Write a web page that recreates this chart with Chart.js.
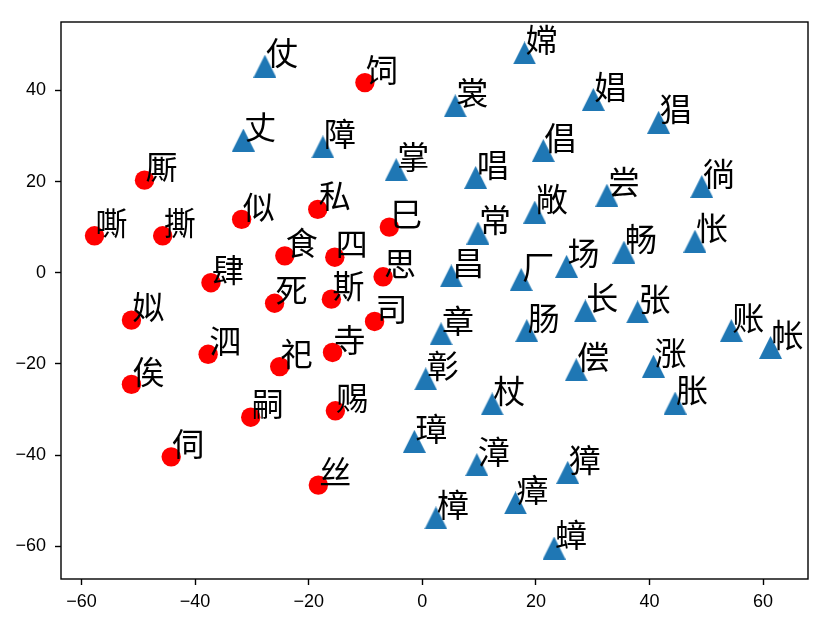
<!DOCTYPE html>
<html>
<head>
<meta charset="utf-8">
<script src="https://cdn.jsdelivr.net/npm/chart.js@4.4.1/dist/chart.umd.min.js"></script>
<style>
  html, body { margin: 0; padding: 0; background: #fff; }
  #wrap { width: 831px; height: 626px; }
</style>
</head>
<body>
<div id="wrap"><canvas id="myChart" width="831" height="626"></canvas></div>
<script>
// red group (circles)
const redLabels = ['饲', '厮', '嘶', '撕', '似', '私', '食', '四', '巳', '肆', '死', '斯',
    '思', '司', '姒', '泗', '祀', '寺', '俟', '嗣', '赐', '伺', '丝'];
const redX = [-10.1, -48.9, -57.7, -45.7, -31.8, -18.4, -24.2, -15.4, -5.8, -37.2, -26.0, -16.0,
    -6.9, -8.4, -51.2, -37.7, -25.1, -15.8, -51.2, -30.2, -15.3, -44.2, -18.3];
const redY = [41.7, 20.3, 8.1, 8.1, 11.7, 13.9, 3.7, 3.4, 10.0, -2.2, -6.7, -5.8,
    -0.9, -10.7, -10.4, -17.9, -20.6, -17.5, -24.5, -31.7, -30.3, -40.4, -46.6];

// blue group (triangles)
const blueLabels = ['仗', '丈', '障', '嫦', '裳', '掌', '唱', '倡', '娼', '猖', '尝', '徜',
    '常', '敞', '昌', '厂', '场', '畅', '怅', '长', '张', '账', '帐', '章',
    '肠', '偿', '涨', '胀', '彰', '杖', '璋', '漳', '獐', '瘴', '樟', '蟑'];
const blueX = [-27.7, -31.5, -17.5, 18.0, 5.8, -4.6, 9.4, 21.3, 30.1, 41.6, 32.5, 49.2,
    9.8, 19.8, 5.1, 17.4, 25.4, 35.5, 48.0, 28.7, 37.9, 54.4, 61.3, 3.3,
    18.4, 27.1, 40.7, 44.5, 0.6, 12.3, -1.4, 9.6, 25.6, 16.4, 2.4, 23.2];
const blueY = [45.3, 29.1, 27.6, 48.2, 36.6, 22.6, 20.9, 26.8, 38.0, 33.0, 17.0, 18.9,
    8.7, 13.3, -0.7, -1.5, 1.4, 4.5, 6.9, -8.4, -8.6, -12.7, -16.4, -13.4,
    -12.7, -21.3, -20.5, -28.6, -23.3, -28.8, -37.0, -42.1, -43.8, -50.5, -53.8, -60.4];

const xTicks = [-60, -40, -20, 0, 20, 40, 60];
const yTicks = [-60, -40, -20, 0, 20, 40];

// triangle marker like matplotlib '^'
function makeTriangle(size, color) {
    let c = document.createElement('canvas');
    c.width = size;
    c.height = size;
    let g = c.getContext('2d');
    g.fillStyle = color;
    g.beginPath();
    g.moveTo(size / 2, 0);
    g.lineTo(size, size);
    g.lineTo(0, size);
    g.closePath();
    g.fill();
    return c;
}

function toPoints(xs, ys) {
    return xs.map((x, i) => ({ x: x, y: ys[i] }));
}

// draw the character next to every point
const labelPlugin = {
    id: 'pointLabels',
    afterDatasetsDraw(chart) {
        let ctx = chart.ctx;
        ctx.save();
        ctx.fillStyle = '#000';
        ctx.font = '32px "Noto Sans CJK SC"';
        ctx.textAlign = 'left';
        ctx.textBaseline = 'ideographic';
        chart.data.datasets.forEach((ds, d) => {
            let meta = chart.getDatasetMeta(d);
            meta.data.forEach((pt, i) => {
                ctx.fillText(ds.texts[i], pt.x + 1, pt.y + 3);
            });
        });
        ctx.restore();
    }
};

// full box around the plot area
const framePlugin = {
    id: 'frame',
    afterDraw(chart) {
        let a = chart.chartArea;
        let ctx = chart.ctx;
        ctx.save();
        ctx.strokeStyle = '#000';
        ctx.lineWidth = 1.4;
        ctx.strokeRect(a.left, a.top, a.right - a.left, a.bottom - a.top);
        ctx.restore();
    }
};

const tickFont = { family: '"Liberation Sans", Arial', size: 18 };

let ctx = document.getElementById('myChart').getContext('2d');
let myChart = new Chart(ctx, {
    type: 'scatter',
    data: {
        datasets: [{
            data: toPoints(redX, redY),
            texts: redLabels,
            pointStyle: 'circle',
            pointRadius: 9.7,
            pointHoverRadius: 9.7,
            pointBorderWidth: 0,
            backgroundColor: '#ff0000',
            borderColor: '#ff0000'
        }, {
            data: toPoints(blueX, blueY),
            texts: blueLabels,
            pointStyle: makeTriangle(23, '#1f77b4'),
            pointRadius: 11.5,
            pointBorderWidth: 0,
            backgroundColor: '#1f77b4',
            borderColor: '#1f77b4'
        }]
    },
    options: {
        responsive: false,
        animation: false,
        events: [],
        layout: { padding: { top: 22, right: 23, left: 0, bottom: 0 } },
        plugins: {
            legend: { display: false },
            tooltip: { enabled: false }
        },
        scales: {
            x: {
                type: 'linear',
                min: -63.6,
                max: 67.9,
                border: { display: false },
                grid: { drawOnChartArea: false, drawTicks: true, tickLength: 6, tickColor: '#000', tickWidth: 1.4 },
                ticks: {
                    color: '#000',
                    font: tickFont,
                    padding: 6,
                    maxRotation: 0,
                    callback: v => String(v).replace('-', '\u2212')
                },
                afterBuildTicks: s => { s.ticks = xTicks.map(v => ({ value: v })); },
                afterFit: s => { s.height = 47; }
            },
            y: {
                type: 'linear',
                min: -67.2,
                max: 55,
                border: { display: false },
                grid: { drawOnChartArea: false, drawTicks: true, tickLength: 6, tickColor: '#000', tickWidth: 1.4 },
                ticks: {
                    color: '#000',
                    font: tickFont,
                    padding: 9,
                    callback: v => String(v).replace('-', '\u2212')
                },
                afterBuildTicks: s => { s.ticks = yTicks.map(v => ({ value: v })); },
                afterFit: s => { s.width = 61; }
            }
        }
    },
    plugins: [labelPlugin, framePlugin]
});
</script>
</body>
</html>
